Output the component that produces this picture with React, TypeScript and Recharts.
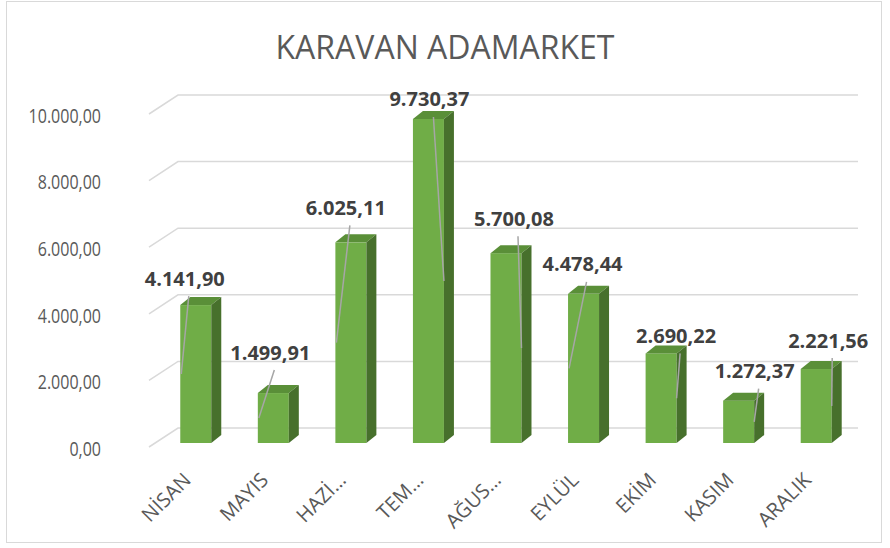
import React from 'react';
import { BarChart, Bar, XAxis, YAxis, CartesianGrid, LabelList } from 'recharts';

const MONTHS = ['NİSAN', 'MAYIS', 'HAZİ…', 'TEM…', 'AĞUS…', 'EYLÜL', 'EKİM', 'KASIM', 'ARALIK'];
const SALES = [4141.9, 1499.91, 6025.11, 9730.37, 5700.08, 4478.44, 2690.22, 1272.37, 2221.56];
const Y_TICKS = [0, 2000, 4000, 6000, 8000, 10000];

// where excel dropped each data label, relative to the bar top
const LABEL_DX = [-11, -3, -5, 1, 8, -1, 15, 16, 12];
const LABEL_DY = [-27, -41, -35, -20, -35, -30, -18, -30, -29];

const FONT = '"Open Sans", sans-serif';
const GRID = '#D9D9D9';
const DEPTH_X = 10;
const DEPTH_Y = 8;

const data = MONTHS.map((m, i) => ({ month: m, value: SALES[i] }));

function trNumber(v: number) {
  const [int, dec] = v.toFixed(2).split('.');
  return int.replace(/\B(?=(\d{3})+(?!\d))/g, '.') + ',' + dec;
}

const Column3D = (props: any) => {
  const { x, y, width, height } = props;
  if (height == null || height <= 0) return null;
  const r = x + width;
  const b = y + height;
  return (
    <g>
      <rect x={x} y={y} width={width} height={height} fill="#70AD47" />
      <polygon
        points={`${x},${y} ${x + DEPTH_X},${y - DEPTH_Y} ${r + DEPTH_X},${y - DEPTH_Y} ${r},${y}`}
        fill="#5A8F38"
      />
      <polygon
        points={`${r},${y} ${r + DEPTH_X},${y - DEPTH_Y} ${r + DEPTH_X},${b - DEPTH_Y} ${r},${b}`}
        fill="#47702C"
      />
    </g>
  );
};

const BarLabel = (props: any) => {
  const { x, y, width, height, value } = props;
  let i = props.index;
  if (i == null) i = SALES.indexOf(value);
  const cx = x + width / 2;
  const lx = cx + (LABEL_DX[i] || 0);
  const ly = y + (LABEL_DY[i] || -30);
  const endX = (LABEL_DX[i] || 0) < 0 ? x + 1 : x + width;
  const endY = y + height / 2;
  return (
    <g>
      <line x1={lx + 4} y1={ly + 18} x2={endX} y2={endY} stroke="#A6A6A6" strokeWidth={1.5} />
      <text
        x={lx}
        y={ly}
        textAnchor="middle"
        dominantBaseline="central"
        fontFamily={FONT}
        fontWeight="bold"
        fontSize={20}
        fill="#404040"
      >
        {trNumber(value)}
      </text>
    </g>
  );
};

const GridLine = (props: any) => {
  const { x1, x2, y } = props;
  const yy = props.y1 ?? y;
  return (
    <polyline
      key={`g-${yy}`}
      points={`${x1 - 8},${yy + 4} ${x1 + 21},${yy - 15} ${x2 + 3},${yy - 15}`}
      fill="none"
      stroke={GRID}
      strokeWidth={1.5}
    />
  );
};

const YTick = (props: any) => {
  const { y, payload } = props;
  return (
    <text
      transform={`translate(101 ${y + 5}) scale(0.8 1)`}
      x={0}
      y={0}
      textAnchor="end"
      dominantBaseline="central"
      fontFamily={FONT}
      fontSize={20}
      fill="#595959"
    >
      {trNumber(payload.value)}
    </text>
  );
};

const XTick = (props: any) => {
  const { x, y, payload } = props;
  const tx = x - 9;
  const ty = y + 27;
  return (
    <text
      x={tx}
      y={ty}
      transform={`rotate(-45 ${tx} ${ty})`}
      textAnchor="end"
      dominantBaseline="central"
      fontFamily={FONT}
      fontSize={20}
      fill="#595959"
    >
      {payload.value}
    </text>
  );
};

export default function App() {
  return (
    <div style={{ position: 'absolute', left: 0, top: 0, width: 890, height: 548, background: '#fff' }}>
      <div
        style={{
          position: 'absolute',
          left: 6,
          top: 1,
          width: 876,
          height: 542,
          border: '1.5px solid #D9D9D9',
          boxSizing: 'border-box',
        }}
      />
      <div
        style={{
          position: 'absolute',
          left: 0,
          width: 890,
          top: 26,
          textAlign: 'center',
          fontFamily: FONT,
          fontSize: 32,
          color: '#595959',
          lineHeight: '42px',
        }}
      >
        KARAVAN ADAMARKET
      </div>
      <div style={{ position: 'absolute', left: 0, top: 0 }}>
        <BarChart
          width={890}
          height={548}
          data={data}
          margin={{ top: 110, right: 35, bottom: 0, left: 0 }}
          barCategoryGap="30%"
        >
          <CartesianGrid vertical={false} horizontal={GridLine} />
          <YAxis
            width={157}
            domain={[0, 10000]}
            ticks={Y_TICKS}
            interval={0}
            axisLine={false}
            tickLine={false}
            tick={YTick}
          />
          <XAxis
            dataKey="month"
            interval={0}
            axisLine={false}
            tickLine={false}
            tick={XTick}
            tickMargin={0}
            height={105}
          />
          <Bar dataKey="value" shape={Column3D} isAnimationActive={false}>
            <LabelList dataKey="value" content={BarLabel} />
          </Bar>
        </BarChart>
      </div>
    </div>
  );
}
